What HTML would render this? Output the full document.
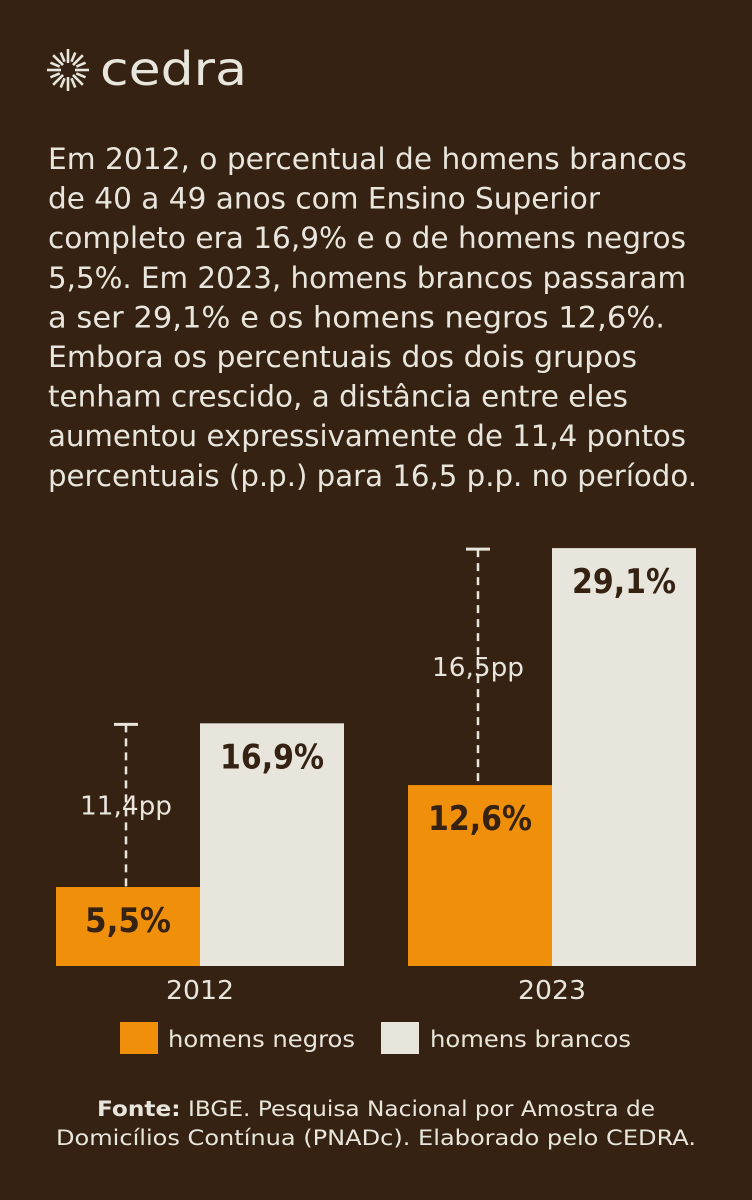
<!DOCTYPE html>
<html><head><meta charset="utf-8"><style>
html,body{margin:0;padding:0;background:#352212;}
svg{display:block;font-family:"DejaVu Sans","Liberation Sans",sans-serif;}
</style></head><body>
<svg width="752" height="1200" viewBox="0 0 752 1200">
<rect width="752" height="1200" fill="#352212"/>
<g id="logo"></g>
<text x="100" y="85" font-size="46" fill="#e8e6dc" textLength="147" lengthAdjust="spacingAndGlyphs">cedra</text>
<g id="para" fill="#e8e6dc" font-size="29"></g>
<g id="chart"></g>
<g>
<rect x="120" y="1022" width="38" height="32" fill="#f0900a"/>
<text x="168" y="1047" font-size="23" fill="#e8e6dc" textLength="187" lengthAdjust="spacingAndGlyphs">homens negros</text>
<rect x="381" y="1022" width="38" height="32" fill="#e8e6dc"/>
<text x="430" y="1047" font-size="23" fill="#e8e6dc" textLength="201" lengthAdjust="spacingAndGlyphs">homens brancos</text>
</g>
<text x="376" y="1116" font-size="21" fill="#e8e6dc" text-anchor="middle" textLength="558" lengthAdjust="spacingAndGlyphs"><tspan font-weight="bold">Fonte:</tspan> IBGE. Pesquisa Nacional por Amostra de</text>
<text x="376" y="1145" font-size="21" fill="#e8e6dc" text-anchor="middle" textLength="640" lengthAdjust="spacingAndGlyphs">Domicílios Contínua (PNADc). Elaborado pelo CEDRA.</text>
</svg>
<script>
const NS="http://www.w3.org/2000/svg";
function mk(tag,attrs,parent){const e=document.createElementNS(NS,tag);for(const k in attrs)e.setAttribute(k,attrs[k]);parent.appendChild(e);return e;}
const logo=document.getElementById('logo');
for(let i=0;i<16;i++){const a=i*Math.PI/8;const r1=(i%2?9:7),r2=(i%2?19:21);
const l=mk('line',{x1:68+r1*Math.cos(a),y1:70+r1*Math.sin(a),x2:68+r2*Math.cos(a),y2:70+r2*Math.sin(a),stroke:'#e8e6dc','stroke-width':2.6},logo);

}
const lines=["Em 2012, o percentual de homens brancos","de 40 a 49 anos com Ensino Superior","completo era 16,9% e o de homens negros","5,5%. Em 2023, homens brancos passaram","a ser 29,1% e os homens negros 12,6%.","Embora os percentuais dos dois grupos","tenham crescido, a distância entre eles","aumentou expressivamente de 11,4 pontos","percentuais (p.p.) para 16,5 p.p. no período."];
const widths=[639,552,638,638,617,589,580,638,649];
const para=document.getElementById('para');
lines.forEach((s,i)=>{const t=mk('text',{x:48,y:169+i*39.6,textLength:widths[i],lengthAdjust:'spacingAndGlyphs'},para);t.textContent=s;

});
const years=["2012","2023"];
const negros=[5.5,12.6];
const brancos=[16.9,29.1];
const gapLabels=["11,4pp","16,5pp"];
const base=966, pxPer=14.36;
const y=v=>base-v*pxPer;
const groupX=[56,408], bw=144;
const chart=document.getElementById('chart');
years.forEach((yr,i)=>{
 const x0=groupX[i];
 const b1=mk('rect',{x:x0,y:y(negros[i]),width:bw,height:base-y(negros[i]),fill:'#f0900a'},chart);
 
 
 const b2=mk('rect',{x:x0+bw,y:y(brancos[i]),width:bw,height:base-y(brancos[i]),fill:'#e8e6dc'},chart);
 
 
 const t1=mk('text',{x:x0+bw/2,y:y(negros[i])+45,'font-size':34,'font-weight':'bold',fill:'#352212','text-anchor':'middle',textLength:104,lengthAdjust:'spacingAndGlyphs'},chart);
 t1.textContent=negros[i].toFixed(1).replace('.',',')+'%';
 if(t1.textContent.length<5) t1.setAttribute('textLength',86);
 
 
 const t2=mk('text',{x:x0+bw*1.5,y:y(brancos[i])+45,'font-size':34,'font-weight':'bold',fill:'#352212','text-anchor':'middle',textLength:104,lengthAdjust:'spacingAndGlyphs'},chart);
 t2.textContent=brancos[i].toFixed(1).replace('.',',')+'%';
 
 
 const cx=x0+70, top=y(brancos[i])+1;
 const dl=mk('line',{x1:cx,y1:top,x2:cx,y2:y(negros[i]),stroke:'#e8e6dc','stroke-width':2.5,'stroke-dasharray':'8,6'},chart);
 
 
 const cap=mk('line',{x1:cx-12,y1:top,x2:cx+12,y2:top,stroke:'#e8e6dc','stroke-width':3},chart);
 
 
 const midY=(top+y(negros[i]))/2;
 const gl=mk('text',{x:cx,y:midY+9,'font-size':26,fill:'#e8e6dc','text-anchor':'middle',textLength:92,lengthAdjust:'spacingAndGlyphs'},chart);
 gl.textContent=gapLabels[i];
 
 
 const xl=mk('text',{x:x0+bw,y:base+33,'font-size':26,fill:'#e8e6dc','text-anchor':'middle',textLength:68,lengthAdjust:'spacingAndGlyphs'},chart);
 xl.textContent=yr;
 
 
});
</script>
</body></html>
